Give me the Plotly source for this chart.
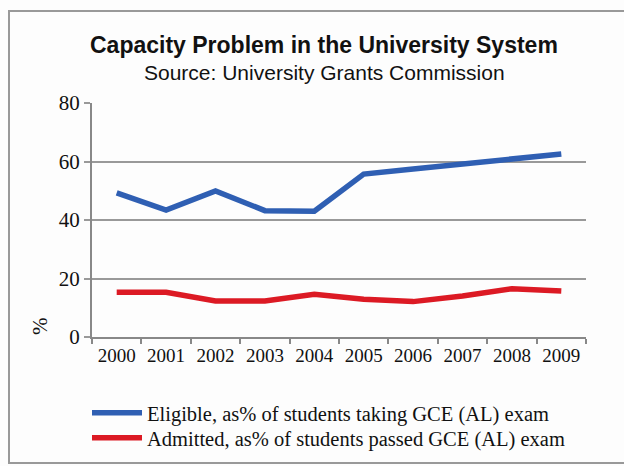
import plotly.graph_objects as go

years = ["2000", "2001", "2002", "2003", "2004", "2005", "2006", "2007", "2008", "2009"]
eligible = [49.3, 43.4, 49.9, 43.2, 43.0, 55.7, 57.4, 59.1, 60.9, 62.6]
admitted = [15.3, 15.3, 12.3, 12.3, 14.6, 12.9, 12.1, 14.0, 16.5, 15.7]
y_ticks = [0, 20, 40, 60, 80]

serif = "Liberation Serif, Times New Roman, serif"
sans = "Liberation Sans, Arial, sans-serif"

fig = go.Figure()
fig.add_trace(go.Scatter(x=years, y=eligible, mode="lines",
                         name="Eligible, as% of students taking GCE (AL) exam",
                         line=dict(color="#2f5fb3", width=5.5), legend="legend"))
fig.add_trace(go.Scatter(x=years, y=admitted, mode="lines",
                         name="Admitted, as% of students passed GCE (AL) exam",
                         line=dict(color="#dc1a24", width=5.5), legend="legend2"))

W, H = 624, 466
L, R, T, B = 92, 38, 103, 129
pw, ph = W - L - R, H - T - B

def px(x):
    return (x - L) / pw

def py(y):
    return (H - B - y) / ph

leg_common = dict(xanchor="left", yanchor="middle",
                  font=dict(family=serif, size=20.5, color="#111"),
                  bgcolor="rgba(0,0,0,0)", itemwidth=50)

fig.update_layout(
    width=W, height=H,
    margin=dict(l=L, r=R, t=T, b=B, autoexpand=False),
    paper_bgcolor="#fdfdfd", plot_bgcolor="#fdfdfd",
    showlegend=True,
    legend=dict(x=px(87), y=py(413), **leg_common),
    legend2=dict(x=px(87), y=py(438), **leg_common),
    xaxis=dict(type="category", showgrid=False, showline=True,
               linecolor="#888", linewidth=2, ticks="outside", tickson="boundaries",
               ticklen=5, tickcolor="#888", tickwidth=1.5, tickangle=0,
               tickfont=dict(family=serif, size=19, color="#111"),
               range=[-0.5, 9.5], automargin=False),
    yaxis=dict(range=[0, 80], tickvals=y_ticks, showgrid=True, gridcolor="#999",
               gridwidth=1.8, showline=True, linecolor="#888", linewidth=2,
               ticks="outside", ticklen=6, tickcolor="#999", tickwidth=1.5,
               tickfont=dict(family=serif, size=21, color="#111"), zeroline=False,
               automargin=False),
    annotations=[
        dict(text="<b>Capacity Problem in the University System</b>", x=px(324), y=py(45),
             xref="paper", yref="paper", showarrow=False, xanchor="center", yanchor="middle",
             font=dict(family=sans, size=23, color="#111")),
        dict(text="Source: University Grants Commission", x=px(324), y=py(72),
             xref="paper", yref="paper", showarrow=False, xanchor="center", yanchor="middle",
             font=dict(family=sans, size=21, color="#111")),
        dict(text="%", x=px(40), y=py(326), xref="paper", yref="paper", showarrow=False,
             textangle=-90, xanchor="center", yanchor="middle",
             font=dict(family=serif, size=21, color="#111")),
    ],
    shapes=[
        dict(type="rect", xref="paper", yref="paper", x0=px(9), x1=px(640), y0=py(463), y1=py(11),
             line=dict(color="#999", width=2)),
    ],
)

fig.write_html("out.html", config={"displayModeBar": False},
               post_script="document.body.style.margin='0';")
